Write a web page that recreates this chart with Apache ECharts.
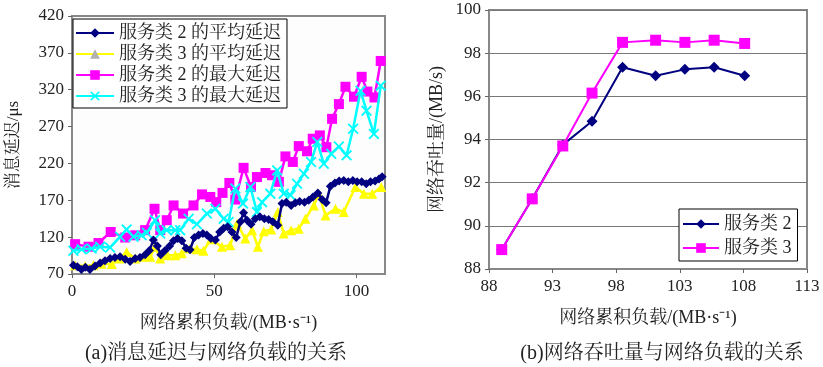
<!DOCTYPE html>
<html>
<head>
<meta charset="utf-8">
<script src="https://cdn.jsdelivr.net/npm/echarts@6/dist/echarts.min.js"></script>
<style>
html,body{margin:0;padding:0;background:#fff;}
#c{width:823px;height:367px;}
</style>
</head>
<body>
<div id="c"></div>
<script>
// ---- Left chart: message latency vs. accumulated network load ----
const avg2X = [0.5,1.9,3.3,4.7,6.3,8.1,9.9,11.6,13.4,15.1,16.9,18.7,20.4,22.2,23.9,25.7,27.2,28.6,30.0,31.2,32.7,34.3,35.7,37.1,38.6,40.1,41.5,43.0,44.5,46.0,47.4,48.8,50.4,51.9,53.3,54.7,56.2,57.7,59.2,60.3,61.5,62.9,64.4,66.0,67.6,69.1,70.6,72.3,73.8,75.3,77.0,78.5,80.0,81.7,83.2,84.7,86.4,87.9,89.3,90.8,92.4,93.9,95.5,97.1,98.7,100.2,101.8,103.4,104.9,106.5,107.9,109.0];
const avg2Y = [82,80,76,79,76,81,85,88,91,92.5,93.5,90,87,91,92.5,96,102,116,108,96,102,108,115,118,115,105,103,119.5,123,125,123,118,116,127,132,134,127,119.5,141,153,143,137.5,145,147.5,145,144,141,136,165.5,167.5,163,166.5,168.5,167.5,170,174.5,180,171,166.5,189,193.5,196,197,195,197,195,195,192.5,195,196,199,202];

const avg3X = [1.1,4.6,7.5,10.4,14.0,16.7,19.2,22.2,25.1,27.5,29.2,31.0,33.6,36.3,38.6,41.5,43.9,46.2,48.8,52.7,55.6,58.0,60.9,63.3,65.3,67.4,70.0,72.3,74.4,77.0,79.7,82.0,85.0,86.7,89.1,92.6,95.5,99.6,102.6,105.5,108.7];
const avg3Y = [82,81,82,84,83.5,91,100,91,93.5,93.5,107,91,95.5,95.5,98,104.5,103.5,101.5,117,107,109,138.5,118,129.5,107,128,130.5,154,125,129.5,131.5,145,163,179,149.5,158.5,154,188,179,179,188];

const max2X = [1.1,5.8,9.3,13.6,18.7,22.2,25.7,29.0,31.0,33.3,35.7,39.0,42.7,45.7,48.6,50.7,52.9,55.3,57.4,60.3,62.9,65.0,68.0,70.3,72.7,75.0,77.6,79.7,82.6,84.6,87.1,89.4,91.4,93.8,96.1,99.1,101.8,103.8,106.3,108.5];
const max2Y = [110.5,107,112,127,119.5,122.5,129.5,158.5,129.5,143,163,152,163,178,174.5,167.5,180,193.5,171,214,188,201.5,207,204,195,229.5,222,243.5,236.5,253.5,258,242,280.5,300.5,324,310.5,337.5,317.5,309.5,359];

const max3X = [0.5,3.4,6.9,9.9,13.4,16.9,19.2,21.6,24.5,26.3,29.2,31.0,33.3,36.3,38.0,41.0,43.9,47.4,50.4,53.3,55.0,57.4,60.1,62.7,65.0,66.8,69.7,72.1,74.4,76.8,79.1,81.5,84.0,86.2,88.5,91.1,93.8,96.5,98.8,101.4,103.5,106.1,108.5];
const max3Y = [101.5,103.5,104.5,107,106,120.5,130.5,120.5,122.5,126,143,125,129.5,129.5,129.5,145,137.5,152,158.5,145,140.5,186,165.5,188,154,167.5,179,210.5,179,177,192.5,206,222,249,219.5,233,243,231,267,318.5,291.5,260,325.5];

const leftNames = ['服务类 2 的平均延迟','服务类 3 的平均延迟','服务类 2 的最大延迟','服务类 3 的最大延迟'];
const leftXTicks = [0, 110, 50];      // min, max, interval
const leftYTicks = [70, 420, 50];

// ---- Right chart: network throughput vs. accumulated network load ----
const thrX  = [89.0,91.4,93.8,96.1,98.5,101.1,103.4,105.7,108.1];
const thr2  = [88.9,91.25,93.75,94.85,97.35,96.95,97.25,97.35,96.95];
const thr3  = [88.9,91.25,93.7,96.15,98.5,98.6,98.5,98.6,98.45];
const rightNames = ['服务类 2','服务类 3'];
const rightXTicks = [88, 113, 5];
const rightYTicks = [88, 100, 2];

const texts = {
  leftY: '消息延迟/μs',
  rightY: '网络吞吐量/(MB/s)',
  xName: '网络累积负载/(MB·s⁻¹)',
  capA: '(a)消息延迟与网络负载的关系',
  capB: '(b)网络吞吐量与网络负载的关系'
};

const zip = (xs, ys) => xs.map((x, i) => [x, ys[i]]);
const FONT = "'Liberation Serif', 'Noto Serif CJK SC', 'Noto Sans CJK SC', serif";
const XSYM = 'path://M0,1.2 L1.2,0 L5,3.8 L8.8,0 L10,1.2 L6.2,5 L10,8.8 L8.8,10 L5,6.2 L1.2,10 L0,8.8 L3.8,5 Z';

const axisCommon = {
  axisLine: {show: true, lineStyle: {color: '#888', width: 2}},
  axisTick: {show: true, length: 4, lineStyle: {color: '#666'}},
  axisLabel: {fontFamily: FONT, fontSize: 17, color: '#222'},
  nameTextStyle: {fontFamily: FONT, fontSize: 18, color: '#222'},
  nameLocation: 'middle'
};

const chart = echarts.init(document.getElementById('c'), null, {renderer: 'canvas'});
chart.setOption({
  backgroundColor: '#fff',
  animation: false,
  textStyle: {fontFamily: FONT},
  grid: [
    {left: 72, top: 16, width: 313, height: 258, show: true, borderColor: '#888', borderWidth: 2, backgroundColor: '#fdfdfd'},
    {left: 489, top: 10, width: 318, height: 259, show: true, borderColor: '#888', borderWidth: 2, backgroundColor: '#fff'}
  ],
  xAxis: [
    Object.assign({}, axisCommon, {
      type: 'value', gridIndex: 0, min: leftXTicks[0], max: leftXTicks[1], interval: leftXTicks[2],
      splitLine: {show: false}, name: texts.xName, nameGap: 40,
      axisLabel: Object.assign({}, axisCommon.axisLabel, {showMaxLabel: false, margin: 9})
    }),
    Object.assign({}, axisCommon, {
      type: 'value', gridIndex: 1, min: rightXTicks[0], max: rightXTicks[1], interval: rightXTicks[2],
      splitLine: {show: false}, name: texts.xName, nameGap: 40,
      axisLabel: Object.assign({}, axisCommon.axisLabel, {margin: 9})
    })
  ],
  yAxis: [
    Object.assign({}, axisCommon, {
      type: 'value', gridIndex: 0, min: leftYTicks[0], max: leftYTicks[1], interval: leftYTicks[2],
      splitLine: {show: false}, name: texts.leftY, nameGap: 50, nameRotate: 90,
      nameTextStyle: Object.assign({}, axisCommon.nameTextStyle, {fontSize: 17})
    }),
    Object.assign({}, axisCommon, {
      type: 'value', gridIndex: 1, min: rightYTicks[0], max: rightYTicks[1], interval: rightYTicks[2],
      splitLine: {show: true, lineStyle: {color: '#777', width: 1}}, name: texts.rightY, nameGap: 43, nameRotate: 90
    })
  ],
  legend: [
    {
      data: [
        {name: leftNames[0]},
        {name: leftNames[1], itemStyle: {color: '#b0b0b0'}},
        {name: leftNames[2]},
        {name: leftNames[3]}
      ],
      orient: 'vertical', left: 73, top: 19, itemWidth: 38, itemHeight: 12, itemGap: 3,
      padding: [5, 6, 3, 2], borderColor: '#000', borderWidth: 1, backgroundColor: '#fff', borderRadius: 0,
      textStyle: {fontFamily: FONT, fontSize: 18, color: '#222', lineHeight: 18}
    },
    {
      data: rightNames,
      orient: 'vertical', left: 679, top: 209, itemWidth: 36, itemHeight: 12, itemGap: 6,
      padding: [6, 6, 4, 3], borderColor: '#000', borderWidth: 1, backgroundColor: '#fff', borderRadius: 0,
      textStyle: {fontFamily: FONT, fontSize: 18, color: '#222', lineHeight: 18}
    }
  ],
  series: [
    {name: leftNames[0], type: 'line', xAxisIndex: 0, yAxisIndex: 0, data: zip(avg2X, avg2Y),
     symbol: 'diamond', symbolSize: 9, lineStyle: {color: '#000080', width: 2.5}, itemStyle: {color: '#000080'}, z: 4},
    {name: leftNames[1], type: 'line', xAxisIndex: 0, yAxisIndex: 0, data: zip(avg3X, avg3Y),
     symbol: 'triangle', symbolSize: 10, lineStyle: {color: '#ffff00', width: 2.5}, itemStyle: {color: '#ffff00'}, z: 3},
    {name: leftNames[2], type: 'line', xAxisIndex: 0, yAxisIndex: 0, data: zip(max2X, max2Y),
     symbol: 'rect', symbolSize: 10, lineStyle: {color: '#ff00ff', width: 2.5}, itemStyle: {color: '#ff00ff'}, z: 2},
    {name: leftNames[3], type: 'line', xAxisIndex: 0, yAxisIndex: 0, data: zip(max3X, max3Y),
     symbol: XSYM, symbolSize: 11, lineStyle: {color: '#00ffff', width: 2.5}, itemStyle: {color: '#00ffff'}, z: 3},
    {name: rightNames[0], type: 'line', xAxisIndex: 1, yAxisIndex: 1, data: zip(thrX, thr2),
     symbol: 'diamond', symbolSize: 11, lineStyle: {color: '#000080', width: 2}, itemStyle: {color: '#000080'}, z: 2},
    {name: rightNames[1], type: 'line', xAxisIndex: 1, yAxisIndex: 1, data: zip(thrX, thr3),
     symbol: 'rect', symbolSize: 11, lineStyle: {color: '#ff00ff', width: 2}, itemStyle: {color: '#ff00ff'}, z: 3}
  ],
  graphic: [
    {type: 'text', x: 216, y: 354, style: {text: texts.capA, fontFamily: FONT, fontSize: 20, fill: '#222', textAlign: 'center', textVerticalAlign: 'middle'}},
    {type: 'text', x: 662, y: 354, style: {text: texts.capB, fontFamily: FONT, fontSize: 20, fill: '#222', textAlign: 'center', textVerticalAlign: 'middle'}}
  ]
});
</script>
</body>
</html>
